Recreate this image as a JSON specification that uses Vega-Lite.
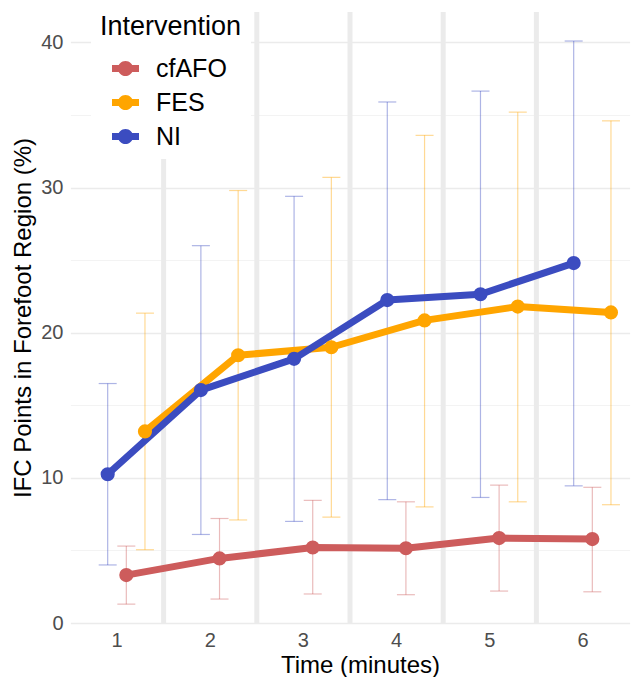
{
  "$schema": "https://vega.github.io/schema/vega-lite/v6.json",
  "autosize": {"type": "none"},
  "padding": {"left": 72, "top": 12, "right": -11, "bottom": 54},
  "width": 577,
  "height": 611,
  "background": "white",
  "config": {
    "view": {"stroke": null},
    "font": "Liberation Sans",
    "axis": {"domain": false, "ticks": false, "tickSize": 0, "labelColor": "#4D4D4D", "labelFontSize": 20, "titleFontSize": 24, "titleFontWeight": "normal", "titleColor": "black"}
  },
  "data": {
    "values": [
      {"group": "cfAFO", "time": 1, "mean": 3.3, "lo": 1.3, "hi": 5.3},
      {"group": "cfAFO", "time": 2, "mean": 4.45, "lo": 1.65, "hi": 7.2},
      {"group": "cfAFO", "time": 3, "mean": 5.2, "lo": 2.0, "hi": 8.45},
      {"group": "cfAFO", "time": 4, "mean": 5.15, "lo": 1.95, "hi": 8.35},
      {"group": "cfAFO", "time": 5, "mean": 5.85, "lo": 2.2, "hi": 9.5},
      {"group": "cfAFO", "time": 6, "mean": 5.78, "lo": 2.15, "hi": 9.35},
      {"group": "FES", "time": 1, "mean": 13.2, "lo": 5.05, "hi": 21.35},
      {"group": "FES", "time": 2, "mean": 18.45, "lo": 7.1, "hi": 29.8},
      {"group": "FES", "time": 3, "mean": 19.0, "lo": 7.3, "hi": 30.7},
      {"group": "FES", "time": 4, "mean": 20.85, "lo": 8.0, "hi": 33.6},
      {"group": "FES", "time": 5, "mean": 21.8, "lo": 8.35, "hi": 35.2},
      {"group": "FES", "time": 6, "mean": 21.4, "lo": 8.15, "hi": 34.6},
      {"group": "NI", "time": 1, "mean": 10.25, "lo": 4.0, "hi": 16.5},
      {"group": "NI", "time": 2, "mean": 16.05, "lo": 6.1, "hi": 26.0},
      {"group": "NI", "time": 3, "mean": 18.2, "lo": 7.0, "hi": 29.4},
      {"group": "NI", "time": 4, "mean": 22.25, "lo": 8.5, "hi": 35.9},
      {"group": "NI", "time": 5, "mean": 22.65, "lo": 8.65, "hi": 36.65},
      {"group": "NI", "time": 6, "mean": 24.8, "lo": 9.45, "hi": 40.1}
    ]
  },
  "encoding": {
    "x": {"field": "time", "type": "ordinal", "title": "Time (minutes)",
      "scale": {"paddingInner": 0, "paddingOuter": 0, "range": [-1.6, 557.6]},
      "axis": {"labelAngle": 0, "grid": false, "labelPadding": 7, "titlePadding": 3, "titleX": 288}},
    "xOffset": {"field": "group", "type": "nominal",
      "scale": {"domain": ["NI", "cfAFO", "FES"], "paddingInner": 0, "paddingOuter": 1, "align": 0.75}},
    "color": {"field": "group", "type": "nominal",
      "scale": {"domain": ["cfAFO", "FES", "NI"], "range": ["#CD5C5C", "#FFA500", "#3B4CC0"]},
      "legend": {"orient": "none", "legendX": 19, "legendY": -7, "title": "Intervention", "fillColor": "white", "padding": 9,
        "symbolType": "M-1,-0.26H1V0.26H-1Z M0.56,0A0.56,0.56 0 1,1 -0.56,0A0.56,0.56 0 1,1 0.56,0Z",
        "symbolSize": 729, "symbolStrokeWidth": 0, "symbolOpacity": 1,
        "labelFontSize": 25, "titleFontSize": 27, "titleFontWeight": "normal", "titleColor": "black", "labelColor": "black",
        "rowPadding": 7, "titlePadding": 14, "symbolOffset": 12, "labelOffset": 17}}
  },
  "layer": [
    {
      "transform": [{"filter": "datum.group === 'NI' && datum.time < 6"}],
      "mark": {"type": "rule", "color": "#EBEBEB", "strokeWidth": 5},
      "encoding": {
        "x": {"field": "time", "type": "ordinal", "bandPosition": 1},
        "xOffset": null,
        "color": null
      }
    },
    {
      "mark": {"type": "rule", "strokeWidth": 1.2, "opacity": 0.42},
      "encoding": {
        "y": {"field": "lo", "type": "quantitative",
          "scale": {"domain": [0, 42.1], "nice": false, "zero": true},
          "title": "IFC Points in Forefoot Region (%)",
          "axis": {"values": [0, 5, 10, 15, 20, 25, 30, 35, 40], "labelExpr": "datum.value % 10 === 0 ? datum.label : ''",
            "gridColor": {"condition": {"test": "datum.value % 10 === 0", "value": "#EBEBEB"}, "value": "#F3F3F3"},
            "gridWidth": {"condition": {"test": "datum.value % 10 === 0", "value": 1.6}, "value": 1.2},
            "labelPadding": 9, "titlePadding": 5}},
        "y2": {"field": "hi"}
      }
    },
    {
      "mark": {"type": "tick", "thickness": 1.2, "size": 18, "opacity": 0.42},
      "encoding": {"y": {"field": "hi", "type": "quantitative"}}
    },
    {
      "mark": {"type": "tick", "thickness": 1.2, "size": 18, "opacity": 0.42},
      "encoding": {"y": {"field": "lo", "type": "quantitative"}}
    },
    {
      "mark": {"type": "line", "strokeWidth": 7, "strokeJoin": "round"},
      "encoding": {"y": {"field": "mean", "type": "quantitative"}}
    },
    {
      "mark": {"type": "point", "filled": true, "size": 200, "opacity": 1},
      "encoding": {"y": {"field": "mean", "type": "quantitative"}}
    }
  ]
}
